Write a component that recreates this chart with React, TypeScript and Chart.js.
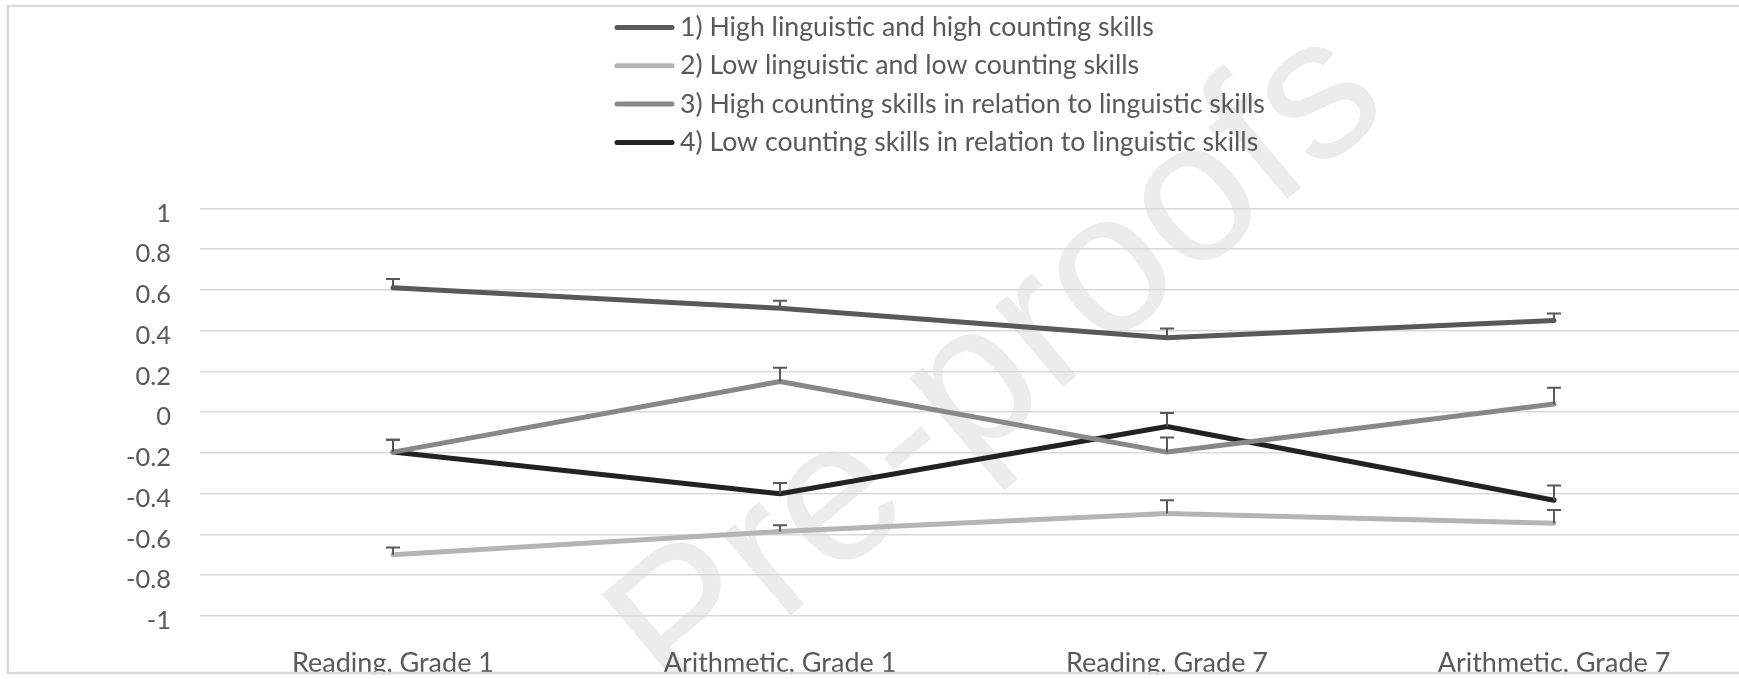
import React, { useEffect, useRef } from "react";
import { Chart, registerables } from "chart.js";

Chart.register(...registerables);

// ---------- data ----------
const categories = [
  "Reading, Grade 1",
  "Arithmetic, Grade 1",
  "Reading, Grade 7",
  "Arithmetic, Grade 7",
];

const seriesLabels = [
  "1) High linguistic and high counting skills",
  "2) Low linguistic and low counting skills",
  "3) High counting skills in relation to linguistic skills",
  "4) Low counting skills in relation to linguistic skills",
];

const highHigh = [0.61, 0.51, 0.365, 0.45];
const lowLow = [-0.7, -0.585, -0.497, -0.545];
const highCounting = [-0.196, 0.15, -0.196, 0.04];
const lowCounting = [-0.196, -0.4, -0.07, -0.432];

const highHighErr = [0.043, 0.036, 0.045, 0.034];
const lowLowErr = [0.036, 0.03, 0.065, 0.065];
const highCountingErr = [0.061, 0.068, 0.072, 0.08];
const lowCountingErr = [0.06, 0.052, 0.066, 0.072];

const yTickValues = [-1, -0.8, -0.6, -0.4, -0.2, 0, 0.2, 0.4, 0.6, 0.8, 1];
const yTickLabels = ["-1", "-0.8", "-0.6", "-0.4", "-0.2", "0", "0.2", "0.4", "0.6", "0.8", "1"];

const watermarkText = "Pre-proofs";

// ---------- styling ----------
const FAMILY = "Lato, 'Liberation Sans', 'DejaVu Sans', sans-serif";
const TEXT_COLOR = "#595959";
const SERIES_COLORS = ["#595959", "#b4b4b4", "#888888", "#222222"];

function fitFontSize(text: string, target: number): number {
  const c = document.createElement("canvas");
  const ctx = c.getContext("2d") as CanvasRenderingContext2D;
  ctx.font = `100px ${FAMILY}`;
  const w = ctx.measureText(text).width;
  return (100 * target) / w;
}

export default function App() {
  const ref = useRef<HTMLCanvasElement>(null);

  useEffect(() => {
    const canvas = ref.current;
    if (!canvas) return;

    const xSize = fitFontSize(categories[0], 202);
    const ySize = fitFontSize("-0.2", 45);
    const legSize =
      (fitFontSize(seriesLabels[0], 462) + fitFontSize(seriesLabels[2], 600)) / 2;
    const xPad = 663 - 616 - 0.6 * xSize;

    const values = [highHigh, lowLow, highCounting, lowCounting];
    const errors = [highHighErr, lowLowErr, highCountingErr, lowCountingErr];

    const errorBars = {
      id: "errorBars",
      afterDatasetDraw(chart: any, args: any) {
        const i = args.index;
        const ds: any = chart.data.datasets[i];
        const ys = chart.scales.y;
        const ctx = chart.ctx as CanvasRenderingContext2D;
        ctx.save();
        ctx.strokeStyle = "#595959";
        ctx.lineWidth = 2;
        ctx.lineCap = "butt";
        args.meta.data.forEach((pt: any, j: number) => {
          const v = ds.data[j];
          const top = ys.getPixelForValue(v + ds.errorUp[j]);
          const base = ys.getPixelForValue(v);
          ctx.beginPath();
          ctx.moveTo(pt.x, base);
          ctx.lineTo(pt.x, top);
          ctx.moveTo(pt.x - 7, top);
          ctx.lineTo(pt.x + 7, top);
          ctx.stroke();
        });
        ctx.restore();
      },
    };

    const watermark = {
      id: "watermark",
      beforeDraw(chart: any) {
        const ctx = chart.ctx as CanvasRenderingContext2D;
        ctx.save();
        ctx.fillStyle = "#ffffff";
        ctx.fillRect(0, 0, chart.width, chart.height);
        ctx.translate(1000, 368);
        ctx.rotate((-40 * Math.PI) / 180);
        ctx.font = `200px 'Liberation Sans', sans-serif`;
        ctx.fillStyle = "#ececec";
        ctx.textAlign = "center";
        ctx.textBaseline = "middle";
        ctx.fillText(watermarkText, 0, 0);
        ctx.restore();
      },
    };

    const frame = {
      id: "frame",
      afterDraw(chart: any) {
        const ctx = chart.ctx as CanvasRenderingContext2D;
        ctx.save();
        ctx.fillStyle = "#ffffff";
        ctx.fillRect(0, 674.3, chart.width, 10);
        ctx.strokeStyle = "#d9d9d9";
        ctx.lineWidth = 2.4;
        ctx.strokeRect(7.8, 6, 1850, 667);
        ctx.restore();
      },
    };

    const legend = {
      id: "customLegend",
      afterDraw(chart: any) {
        const ctx = chart.ctx as CanvasRenderingContext2D;
        chart.data.datasets.forEach((ds: any, i: number) => {
          const y = 27.5 + i * 38.3;
          ctx.save();
          ctx.strokeStyle = ds.borderColor;
          ctx.lineWidth = 5;
          ctx.lineCap = "round";
          ctx.beginPath();
          ctx.moveTo(617, y);
          ctx.lineTo(672, y);
          ctx.stroke();
          ctx.fillStyle = TEXT_COLOR;
          ctx.font = `${legSize}px ${FAMILY}`;
          ctx.textBaseline = "middle";
          ctx.textAlign = "left";
          ctx.fillText(ds.label, 680, y);
          ctx.restore();
        });
      },
    };

    const chart = new Chart(canvas, {
      type: "line",
      data: {
        labels: categories,
        datasets: values.map((v, i) => ({
          label: seriesLabels[i],
          data: v,
          errorUp: errors[i],
          borderColor: SERIES_COLORS[i],
          backgroundColor: SERIES_COLORS[i],
          borderWidth: 5,
          borderCapStyle: "round",
          borderJoinStyle: "round",
          pointRadius: 0,
          pointHoverRadius: 0,
          tension: 0,
          fill: false,
        })) as any,
      },
      options: {
        animation: false,
        responsive: false,
        devicePixelRatio: 1,
        events: [],
        layout: { padding: { top: 208.3, right: 32.5, bottom: 0, left: 0 } },
        plugins: {
          legend: { display: false },
          tooltip: { enabled: false },
        },
        scales: {
          x: {
            type: "category",
            offset: true,
            grid: { display: false, drawTicks: false },
            border: { display: false },
            ticks: {
              color: TEXT_COLOR,
              font: { family: FAMILY, size: xSize, lineHeight: 1.2 },
              padding: xPad,
              maxRotation: 0,
              minRotation: 0,
              autoSkip: false,
            },
            afterFit: (s: any) => {
              s.height = 63;
            },
          },
          y: {
            type: "linear",
            min: -1,
            max: 1,
            afterBuildTicks: (s: any) => {
              s.ticks = yTickValues.map((v) => ({ value: v }));
            },
            ticks: {
              stepSize: 0.2,
              padding: 28.5,
              labelOffset: 5,
              color: TEXT_COLOR,
              font: { family: FAMILY, size: ySize, lineHeight: 1.2 },
              callback: (_v: any, idx: number) => yTickLabels[idx],
            },
            grid: { color: "#d9d9d9", lineWidth: 1.5, drawTicks: false },
            border: { display: false },
            afterFit: (s: any) => {
              s.width = 199.5;
            },
          },
        },
      } as any,
      plugins: [watermark, errorBars, frame, legend],
    });

    return () => chart.destroy();
  }, []);

  return (
    <div
      style={{
        position: "fixed",
        left: 0,
        top: 0,
        width: 1739,
        height: 679,
        overflow: "hidden",
        background: "#ffffff",
      }}
    >
      <canvas ref={ref} width={1780} height={679} style={{ display: "block" }} />
    </div>
  );
}
